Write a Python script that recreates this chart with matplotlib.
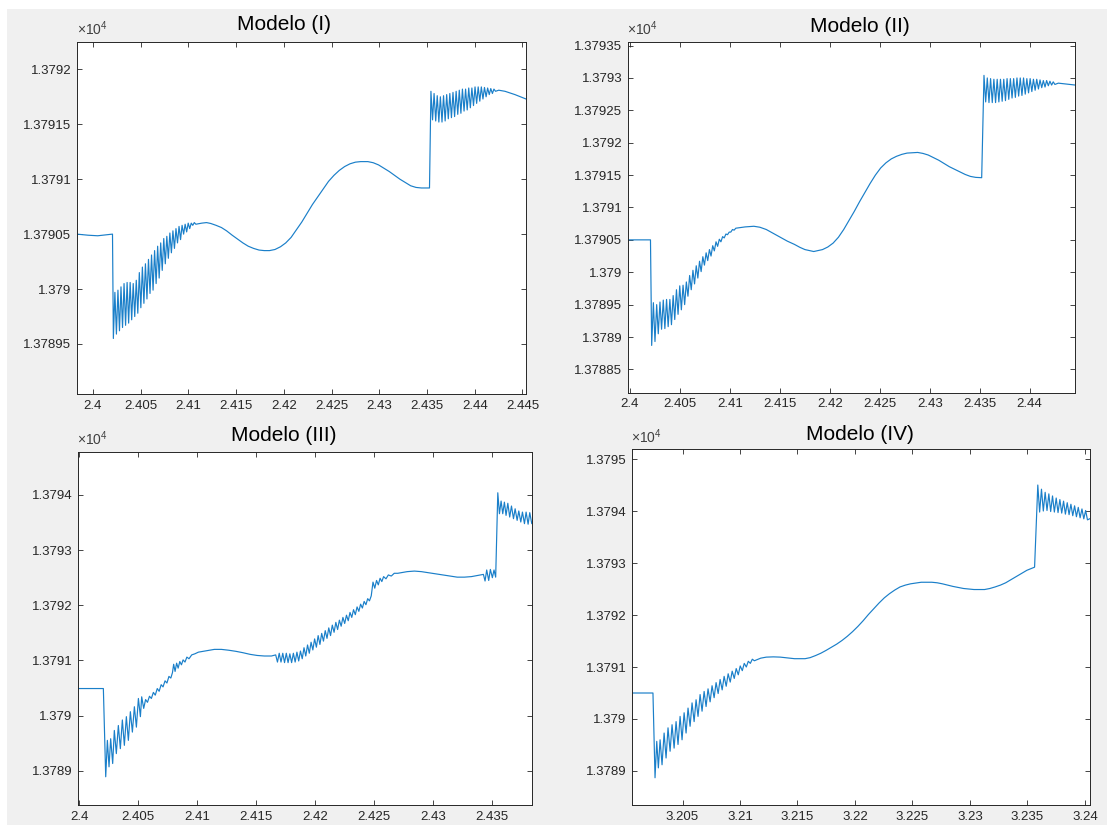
import matplotlib
matplotlib.use('Agg')
import matplotlib.pyplot as plt
from matplotlib.patches import Rectangle

plt.rcParams['font.family'] = ['Liberation Sans', 'DejaVu Sans']
plt.rcParams['mathtext.fontset'] = 'custom'
plt.rcParams['mathtext.rm'] = 'Liberation Sans'

# ---------------- datos (t, valor) ----------------
# Modelo (I)
I_pre = [(2.39831, 13790.50), (2.3995, 13790.49), (2.4005, 13790.485), (2.40205, 13790.50)]
I_osc1 = [(2.40214, 13789.55), (2.40230, 13789.97), (2.40246, 13789.59), (2.40262, 13789.99),
          (2.40278, 13789.62), (2.40294, 13790.02), (2.40310, 13789.65), (2.40326, 13790.05),
          (2.40342, 13789.67), (2.40358, 13790.06), (2.40374, 13789.69), (2.40390, 13790.06),
          (2.40406, 13789.72), (2.40422, 13790.05), (2.40438, 13789.75), (2.40454, 13790.08),
          (2.40470, 13789.78), (2.40486, 13790.15), (2.40502, 13789.83), (2.40518, 13790.20),
          (2.40534, 13789.87), (2.40550, 13790.23), (2.40566, 13789.91), (2.40582, 13790.27),
          (2.40598, 13789.96), (2.40614, 13790.31), (2.40630, 13789.99), (2.40646, 13790.35),
          (2.40662, 13790.05), (2.40678, 13790.39), (2.40694, 13790.10), (2.40710, 13790.42),
          (2.40726, 13790.17), (2.40742, 13790.46), (2.40758, 13790.23), (2.40774, 13790.48),
          (2.40790, 13790.28), (2.40806, 13790.51), (2.40822, 13790.33), (2.40838, 13790.53),
          (2.40854, 13790.37), (2.40870, 13790.55), (2.40886, 13790.42), (2.40902, 13790.57),
          (2.40918, 13790.45), (2.40934, 13790.58), (2.40950, 13790.50), (2.40966, 13790.59),
          (2.40982, 13790.52), (2.40998, 13790.60), (2.41014, 13790.55), (2.41030, 13790.60),
          (2.41046, 13790.58), (2.41062, 13790.605), (2.41078, 13790.59)]
I_mid = [(2.41141, 13790.60), (2.41190, 13790.605), (2.41234, 13790.597), (2.41290, 13790.58),
         (2.41346, 13790.56), (2.41400, 13790.53), (2.41459, 13790.49), (2.41515, 13790.455),
         (2.41571, 13790.42), (2.41627, 13790.39), (2.41683, 13790.37), (2.41740, 13790.355),
         (2.41795, 13790.35), (2.41850, 13790.35), (2.41907, 13790.36), (2.41965, 13790.385),
         (2.42020, 13790.42), (2.42076, 13790.47), (2.42132, 13790.54), (2.42188, 13790.61),
         (2.42244, 13790.69), (2.42300, 13790.77), (2.42356, 13790.84), (2.42412, 13790.91),
         (2.42468, 13790.98), (2.42525, 13791.035), (2.42581, 13791.08), (2.42637, 13791.115),
         (2.42693, 13791.14), (2.42750, 13791.155), (2.42805, 13791.16), (2.42880, 13791.16),
         (2.42936, 13791.15), (2.42992, 13791.13), (2.43048, 13791.10), (2.43104, 13791.07),
         (2.43160, 13791.035), (2.43216, 13791.00), (2.43272, 13790.97), (2.43329, 13790.94),
         (2.43385, 13790.925), (2.43441, 13790.92), (2.43526, 13790.92)]
I_osc2 = [(2.43541, 13791.80), (2.43558, 13791.54), (2.43574, 13791.78), (2.43591, 13791.53),
          (2.43607, 13791.76), (2.43624, 13791.52), (2.43640, 13791.75), (2.43657, 13791.52),
          (2.43673, 13791.76), (2.43690, 13791.53), (2.43706, 13791.77), (2.43723, 13791.55),
          (2.43739, 13791.78), (2.43756, 13791.56), (2.43772, 13791.79), (2.43789, 13791.57),
          (2.43805, 13791.80), (2.43822, 13791.59), (2.43838, 13791.81), (2.43855, 13791.60),
          (2.43871, 13791.82), (2.43888, 13791.62), (2.43904, 13791.82), (2.43921, 13791.63),
          (2.43937, 13791.83), (2.43954, 13791.65), (2.43970, 13791.83), (2.43987, 13791.67),
          (2.44003, 13791.84), (2.44020, 13791.69), (2.44036, 13791.84), (2.44053, 13791.71),
          (2.44069, 13791.84), (2.44086, 13791.73), (2.44102, 13791.835), (2.44119, 13791.75),
          (2.44135, 13791.83), (2.44152, 13791.77), (2.44168, 13791.825), (2.44185, 13791.78),
          (2.44201, 13791.82), (2.44218, 13791.80), (2.44251, 13791.81), (2.44317, 13791.80),
          (2.44421, 13791.77), (2.44537, 13791.73)]

# Modelo (II)
II_pre = [(2.3998, 13790.50), (2.4010, 13790.50), (2.40205, 13790.50)]
II_osc1 = [(2.40217, 13788.87), (2.40234, 13789.53), (2.40250, 13788.93), (2.40267, 13789.50),
           (2.40283, 13789.05), (2.40300, 13789.54), (2.40316, 13789.12), (2.40333, 13789.57),
           (2.40349, 13789.13), (2.40366, 13789.58), (2.40382, 13789.16), (2.40399, 13789.58),
           (2.40415, 13789.19), (2.40432, 13789.64), (2.40448, 13789.27), (2.40465, 13789.73),
           (2.40481, 13789.35), (2.40498, 13789.79), (2.40514, 13789.42), (2.40531, 13789.80),
           (2.40547, 13789.50), (2.40564, 13789.85), (2.40580, 13789.63), (2.40597, 13789.95),
           (2.40613, 13789.73), (2.40630, 13790.03), (2.40646, 13789.82), (2.40663, 13790.10),
           (2.40679, 13789.91), (2.40696, 13790.17), (2.40712, 13790.01), (2.40729, 13790.24),
           (2.40745, 13790.11), (2.40762, 13790.30), (2.40778, 13790.18), (2.40795, 13790.35),
           (2.40811, 13790.25), (2.40828, 13790.41), (2.40844, 13790.33), (2.40861, 13790.47),
           (2.40877, 13790.40), (2.40894, 13790.51), (2.40910, 13790.47), (2.40927, 13790.55),
           (2.40943, 13790.53), (2.40960, 13790.59), (2.40976, 13790.58), (2.40993, 13790.62),
           (2.41009, 13790.62), (2.41026, 13790.66), (2.41042, 13790.65), (2.41059, 13790.68)]
II_mid = [(2.41152, 13790.70), (2.41240, 13790.71), (2.41300, 13790.695), (2.41364, 13790.66),
          (2.41435, 13790.60), (2.41505, 13790.54), (2.41575, 13790.48), (2.41646, 13790.43),
          (2.41700, 13790.385), (2.41751, 13790.35), (2.41839, 13790.32), (2.41927, 13790.35),
          (2.41980, 13790.39), (2.42033, 13790.45), (2.42086, 13790.54), (2.42139, 13790.66),
          (2.42192, 13790.80), (2.42245, 13790.94), (2.42298, 13791.09), (2.42350, 13791.23),
          (2.42403, 13791.37), (2.42456, 13791.50), (2.42509, 13791.61), (2.42562, 13791.69),
          (2.42615, 13791.75), (2.42667, 13791.79), (2.42720, 13791.82), (2.42773, 13791.84),
          (2.42879, 13791.85), (2.42932, 13791.835), (2.42985, 13791.81), (2.43038, 13791.77),
          (2.43090, 13791.73), (2.43143, 13791.68), (2.43196, 13791.63), (2.43249, 13791.59),
          (2.43302, 13791.55), (2.43355, 13791.51), (2.43407, 13791.48), (2.43460, 13791.465),
          (2.43520, 13791.46)]
II_osc2 = [(2.43543, 13793.04), (2.43560, 13792.63), (2.43576, 13793.00), (2.43593, 13792.62),
           (2.43609, 13792.99), (2.43626, 13792.62), (2.43642, 13792.98), (2.43659, 13792.62),
           (2.43675, 13792.98), (2.43692, 13792.63), (2.43708, 13792.98), (2.43725, 13792.64),
           (2.43741, 13792.98), (2.43758, 13792.65), (2.43774, 13792.99), (2.43791, 13792.67),
           (2.43807, 13792.99), (2.43824, 13792.69), (2.43840, 13792.99), (2.43857, 13792.70),
           (2.43873, 13793.00), (2.43890, 13792.72), (2.43906, 13793.00), (2.43923, 13792.73),
           (2.43939, 13793.00), (2.43956, 13792.75), (2.43972, 13792.99), (2.43989, 13792.77),
           (2.44005, 13792.99), (2.44022, 13792.79), (2.44038, 13792.98), (2.44055, 13792.81),
           (2.44071, 13792.98), (2.44088, 13792.83), (2.44104, 13792.97), (2.44121, 13792.85),
           (2.44137, 13792.96), (2.44154, 13792.86), (2.44170, 13792.96), (2.44187, 13792.88),
           (2.44203, 13792.95), (2.44220, 13792.89), (2.44236, 13792.94), (2.44253, 13792.90),
           (2.44287, 13792.92), (2.44370, 13792.905), (2.44460, 13792.89)]

# Modelo (III)
III_pre = [(2.39989, 13790.49), (2.4010, 13790.49), (2.40204, 13790.49)]
III_osc1 = [(2.40224, 13788.89), (2.40238, 13789.55), (2.40252, 13789.07), (2.40266, 13789.58),
            (2.40283, 13789.13), (2.40297, 13789.73), (2.40314, 13789.31), (2.40331, 13789.82),
            (2.40348, 13789.40), (2.40365, 13789.92), (2.40382, 13789.46), (2.40399, 13789.98),
            (2.40416, 13789.55), (2.40433, 13790.07), (2.40450, 13789.70), (2.40467, 13790.16),
            (2.40484, 13789.79), (2.40501, 13790.31), (2.40518, 13789.98), (2.40529, 13790.34),
            (2.40546, 13790.13), (2.40562, 13790.29), (2.40578, 13790.24), (2.40595, 13790.35),
            (2.40611, 13790.31), (2.40628, 13790.42), (2.40644, 13790.37), (2.40661, 13790.49),
            (2.40677, 13790.44), (2.40694, 13790.56), (2.40710, 13790.52), (2.40727, 13790.63),
            (2.40743, 13790.59), (2.40760, 13790.71), (2.40776, 13790.68), (2.40790, 13790.78),
            (2.40800, 13790.93), (2.40812, 13790.80), (2.40825, 13790.95), (2.40838, 13790.86),
            (2.40852, 13790.98), (2.40866, 13790.92), (2.40880, 13791.01), (2.40896, 13790.97),
            (2.40912, 13791.06), (2.40930, 13791.03), (2.40953, 13791.10), (2.40980, 13791.12),
            (2.41010, 13791.15), (2.41066, 13791.17)]
III_mid = [(2.41145, 13791.20), (2.41205, 13791.20), (2.41266, 13791.185), (2.41327, 13791.165),
           (2.41387, 13791.14), (2.41448, 13791.11), (2.41508, 13791.09), (2.41569, 13791.08),
           (2.41629, 13791.08), (2.41665, 13791.10)]
III_osc2 = [(2.41680, 13790.97), (2.41695, 13791.13), (2.41710, 13790.97), (2.41725, 13791.13),
            (2.41740, 13790.96), (2.41755, 13791.13), (2.41770, 13790.96), (2.41785, 13791.12),
            (2.41800, 13790.96), (2.41815, 13791.13), (2.41830, 13790.97), (2.41845, 13791.15),
            (2.41860, 13790.99), (2.41875, 13791.17), (2.41890, 13791.03), (2.41905, 13791.23),
            (2.41920, 13791.08), (2.41935, 13791.28), (2.41950, 13791.13), (2.41965, 13791.33),
            (2.41980, 13791.19), (2.41995, 13791.39), (2.42010, 13791.24), (2.42025, 13791.45),
            (2.42040, 13791.29), (2.42055, 13791.49), (2.42070, 13791.35), (2.42085, 13791.54),
            (2.42100, 13791.40), (2.42115, 13791.59), (2.42130, 13791.45), (2.42145, 13791.64),
            (2.42160, 13791.51), (2.42175, 13791.69), (2.42190, 13791.56), (2.42205, 13791.73),
            (2.42220, 13791.62), (2.42235, 13791.78), (2.42250, 13791.67), (2.42265, 13791.82),
            (2.42280, 13791.72), (2.42295, 13791.87), (2.42310, 13791.78), (2.42325, 13791.92),
            (2.42340, 13791.83), (2.42355, 13791.97), (2.42370, 13791.89), (2.42385, 13792.02),
            (2.42400, 13791.95), (2.42415, 13792.07), (2.42430, 13792.01), (2.42445, 13792.12),
            (2.42460, 13792.08), (2.42475, 13792.17)]
III_late = [(2.42490, 13792.42), (2.42505, 13792.31), (2.42520, 13792.45), (2.42535, 13792.37),
            (2.42550, 13792.49), (2.42565, 13792.43), (2.42580, 13792.52), (2.42600, 13792.48),
            (2.42620, 13792.55), (2.42645, 13792.53), (2.42670, 13792.58), (2.42700, 13792.58),
            (2.42780, 13792.61), (2.42841, 13792.62), (2.42900, 13792.61), (2.42962, 13792.59),
            (2.43022, 13792.57), (2.43083, 13792.55), (2.43144, 13792.53), (2.43204, 13792.51),
            (2.43265, 13792.51), (2.43325, 13792.52), (2.43426, 13792.56), (2.43440, 13792.44),
            (2.43454, 13792.64), (2.43471, 13792.45), (2.43485, 13792.65), (2.43502, 13792.50),
            (2.43516, 13792.64), (2.43530, 13792.51)]
III_osc3 = [(2.43548, 13794.04), (2.43562, 13793.66), (2.43576, 13793.89), (2.43590, 13793.66),
            (2.43604, 13793.87), (2.43618, 13793.63), (2.43633, 13793.85), (2.43649, 13793.60),
            (2.43664, 13793.80), (2.43681, 13793.57), (2.43695, 13793.75), (2.43712, 13793.54),
            (2.43726, 13793.71), (2.43743, 13793.51), (2.43757, 13793.69), (2.43774, 13793.48),
            (2.43788, 13793.69), (2.43805, 13793.47), (2.43819, 13793.68), (2.43836, 13793.48),
            (2.43850, 13793.57)]

# Modelo (IV)
IV_pre = [(3.20059, 13790.50), (3.2015, 13790.50), (3.20243, 13790.50)]
IV_osc1 = [(3.20261, 13788.87), (3.20276, 13789.57), (3.20290, 13789.06), (3.20305, 13789.60),
           (3.20322, 13789.12), (3.20340, 13789.73), (3.20357, 13789.25), (3.20374, 13789.83),
           (3.20392, 13789.38), (3.20409, 13789.89), (3.20427, 13789.44), (3.20444, 13789.95),
           (3.20461, 13789.51), (3.20479, 13790.05), (3.20496, 13789.60), (3.20514, 13790.12),
           (3.20531, 13789.73), (3.20548, 13790.21), (3.20566, 13789.86), (3.20583, 13790.31),
           (3.20601, 13789.95), (3.20618, 13790.37), (3.20635, 13790.05), (3.20653, 13790.47),
           (3.20670, 13790.15), (3.20688, 13790.53), (3.20705, 13790.24), (3.20722, 13790.58),
           (3.20740, 13790.33), (3.20757, 13790.64), (3.20775, 13790.41), (3.20792, 13790.70),
           (3.20810, 13790.49), (3.20827, 13790.76), (3.20845, 13790.56), (3.20862, 13790.82),
           (3.20880, 13790.63), (3.20897, 13790.87), (3.20915, 13790.71), (3.20932, 13790.92),
           (3.20950, 13790.78), (3.20967, 13790.97), (3.20985, 13790.85), (3.21002, 13791.02),
           (3.21020, 13790.93), (3.21037, 13791.07), (3.21055, 13791.00), (3.21072, 13791.11),
           (3.21090, 13791.07), (3.21107, 13791.15), (3.21125, 13791.12)]
IV_mid = [(3.21180, 13791.17), (3.21229, 13791.19), (3.21290, 13791.195), (3.21351, 13791.19),
          (3.21412, 13791.175), (3.21474, 13791.16), (3.21566, 13791.16), (3.21610, 13791.18),
          (3.21657, 13791.22), (3.21703, 13791.265), (3.21749, 13791.32), (3.21795, 13791.38),
          (3.21841, 13791.44), (3.21887, 13791.51), (3.21933, 13791.59), (3.21979, 13791.68),
          (3.22025, 13791.78), (3.22071, 13791.89), (3.22117, 13792.01), (3.22163, 13792.12),
          (3.22209, 13792.23), (3.22255, 13792.33), (3.22300, 13792.41), (3.22346, 13792.48),
          (3.22392, 13792.54), (3.22438, 13792.575), (3.22484, 13792.60), (3.22576, 13792.63),
          (3.22668, 13792.63), (3.22714, 13792.62), (3.22760, 13792.60), (3.22806, 13792.575),
          (3.22852, 13792.55), (3.22898, 13792.53), (3.22944, 13792.51), (3.23035, 13792.49),
          (3.23127, 13792.49), (3.23173, 13792.51), (3.23219, 13792.54), (3.23265, 13792.575),
          (3.23311, 13792.62), (3.23357, 13792.68), (3.23403, 13792.74), (3.23449, 13792.80),
          (3.23495, 13792.86), (3.23562, 13792.92)]
IV_osc2 = [(3.23590, 13794.50), (3.23606, 13793.98), (3.23622, 13794.42), (3.23638, 13794.00),
           (3.23654, 13794.36), (3.23670, 13794.01), (3.23686, 13794.33), (3.23702, 13793.99),
           (3.23718, 13794.29), (3.23734, 13793.98), (3.23750, 13794.25), (3.23766, 13793.97),
           (3.23782, 13794.22), (3.23798, 13793.96), (3.23814, 13794.19), (3.23830, 13793.94),
           (3.23846, 13794.16), (3.23862, 13793.93), (3.23878, 13794.13), (3.23894, 13793.91),
           (3.23910, 13794.10), (3.23926, 13793.89), (3.23942, 13794.07), (3.23958, 13793.87),
           (3.23974, 13794.04), (3.23990, 13793.85), (3.24006, 13794.01), (3.24022, 13793.83),
           (3.24050, 13793.86)]

# ejes
xt_I = [2.4, 2.405, 2.41, 2.415, 2.42, 2.425, 2.43, 2.435, 2.44, 2.445]
xt_II = [2.4, 2.405, 2.41, 2.415, 2.42, 2.425, 2.43, 2.435, 2.44]
xt_III = [2.4, 2.405, 2.41, 2.415, 2.42, 2.425, 2.43, 2.435]
xt_IV = [3.205, 3.21, 3.215, 3.22, 3.225, 3.23, 3.235, 3.24]
yt_I = [13789.5, 13790, 13790.5, 13791, 13791.5, 13792]
yt_II = [13788.5, 13789, 13789.5, 13790, 13790.5, 13791, 13791.5, 13792, 13792.5, 13793, 13793.5]
yt_III = [13789, 13790, 13791, 13792, 13793, 13794]
yt_IV = [13789, 13790, 13791, 13792, 13793, 13794, 13795]

W, H = 1107, 825
line_color = '#1a7fc9'
axis_color = '#262626'

fig = plt.figure(figsize=(W / 100, H / 100), dpi=100, facecolor='white')
fig.add_artist(Rectangle((7 / W, 0), 1 - 7 / W, 1 - 9 / H, transform=fig.transFigure,
                         facecolor='#f0f0f0', edgecolor='none', zorder=-10))


def panel(box, segs, xlim, ylim, xt, yt, title, title_xy, exp_xy):
    l, t, r, b = box
    ax = fig.add_axes([l / W, 1 - b / H, (r - l) / W, (b - t) / H])
    ax.set_facecolor('white')
    pts = [p for s in segs for p in s]
    ax.plot([p[0] for p in pts], [p[1] for p in pts], color=line_color, lw=0.85)
    ax.set_xlim(*xlim)
    ax.set_ylim(*ylim)
    ax.set_xticks(xt)
    ax.set_xticklabels(['{:g}'.format(x) for x in xt])
    ax.set_yticks(yt)
    ax.set_yticklabels(['{:g}'.format(y / 1e4) for y in yt])
    ax.tick_params(direction='in', length=3.3, width=0.6, colors=axis_color,
                   labelsize=9.5, top=True, right=True, pad=4)
    for sp in ax.spines.values():
        sp.set_color(axis_color)
        sp.set_linewidth(0.7)
    fig.text(title_xy[0] / W, 1 - title_xy[1] / H, title, ha='center', va='center',
             fontsize=15, color='black')
    fig.text(exp_xy[0] / W, 1 - exp_xy[1] / H, r'$\times10^{4}$', ha='left', va='bottom',
             fontsize=10, color='#404040')
    return ax


panel((76.8, 42.3, 526, 394.3), [I_pre, I_osc1, I_mid, I_osc2],
      (2.39831, 2.44537), (13789.042, 13792.246), xt_I, yt_I,
      'Modelo (I)', (284, 25), (77, 38))
panel((628, 41.7, 1075, 392.7), [II_pre, II_osc1, II_mid, II_osc2],
      (2.3998, 2.44454), (13788.14, 13793.56), xt_II, yt_II,
      'Modelo (II)', (859.5, 26.5), (627, 38))
panel((78, 451.7, 532, 805), [III_pre, III_osc1, III_mid, III_osc2, III_late, III_osc3],
      (2.39989, 2.43838), (13788.378, 13794.785), xt_III, yt_III,
      'Modelo (III)', (284, 436), (77, 448))
panel((631.8, 449.3, 1090, 805), [IV_pre, IV_osc1, IV_mid, IV_osc2],
      (3.20059, 3.24044), (13788.346, 13795.187), xt_IV, yt_IV,
      'Modelo (IV)', (859.6, 435), (631, 446))

fig.savefig('out.png', dpi=100, facecolor=fig.get_facecolor())
